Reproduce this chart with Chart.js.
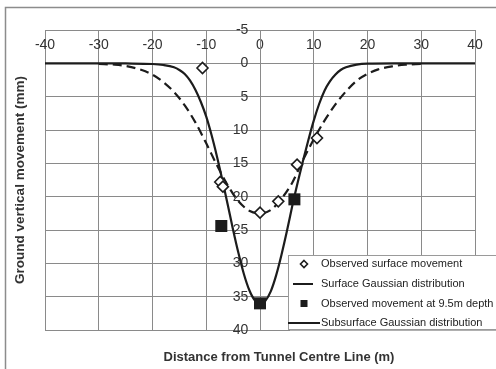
<!DOCTYPE html>
<html>
<head>
<meta charset="utf-8">
<script src="https://cdn.jsdelivr.net/npm/chart.js@4"></script>
<style>
  html, body { margin: 0; padding: 0; background: #fff; }
  canvas { display: block; }
</style>
</head>
<body>
<canvas id="chart" width="496" height="369"></canvas>
<script>
// Observed settlement at the ground surface (x in m, settlement in mm)
const surfaceObsX = [-10.7, -7.4, -6.9, 0, 3.4, 6.9, 10.6];
const surfaceObsY = [0.7, 17.8, 18.5, 22.4, 20.7, 15.2, 11.2];

// Gaussian trough fitted to the surface data
const surfaceFitX = [-30, -27, -25, -22, -20, -18, -16, -14, -12, -10, -8, -6, -4, -2, 0,
                     2, 4, 6, 8, 10, 12, 14, 16, 18, 20, 22, 25, 27, 30];
const surfaceFitY = [0.1, 0.2, 0.4, 1.0, 1.7, 2.8, 4.3, 6.3, 8.9, 12.0, 15.3, 18.3, 20.7, 22.1, 22.5,
                     22.0, 20.3, 17.9, 14.5, 11.4, 8.6, 6.2, 4.2, 2.6, 1.6, 0.9, 0.4, 0.2, 0.1];

// Observed movement at 9.5 m depth
const depthObsX = [-7.2, 0, 6.4];
const depthObsY = [24.4, 36.0, 20.4];

// Gaussian trough fitted to the subsurface data
const subFitX = [-40, -30, -25, -20, -18, -16, -15, -14, -13, -12, -11, -10, -9, -8, -7, -6, -5, -4, -3, -2, -1, 0,
                 1, 2, 3, 4, 5, 6, 7, 8, 9, 10, 11, 12, 13, 14, 15, 16, 18, 20, 25, 30, 40];
const subFitY = [0, 0, 0.02, 0.1, 0.25, 0.6, 1.0, 1.6, 2.6, 4.0, 5.8, 8.0, 10.8, 14.0, 17.5, 21.2, 25.0, 28.5, 31.6, 34.0, 35.5, 36.0,
                 35.6, 34.2, 31.8, 28.7, 25.2, 21.4, 17.9, 14.6, 11.5, 8.6, 6.1, 4.1, 2.7, 1.7, 1.0, 0.6, 0.2, 0.05, 0, 0, 0];

const seriesNames = [
  'Observed surface movement',
  'Surface Gaussian distribution',
  'Observed movement at 9.5m depth',
  'Subsurface Gaussian distribution'
];

const xTickStep = 10;
const yTickStep = 5;

const pts = (xs, ys) => xs.map((x, i) => ({ x: x, y: ys[i] }));

const INK = '#1c1c1c';
const GRID = '#8a8a8a';
const TEXT = '#333333';

// Frame, axis titles and legend box drawn on the canvas
const decorations = {
  id: 'decorations',
  beforeDraw(chart) {
    const ctx = chart.ctx;
    ctx.save();
    ctx.fillStyle = '#ffffff';
    ctx.fillRect(0, 0, chart.width, chart.height);
    ctx.strokeStyle = '#8c8c8c';
    ctx.lineWidth = 1.5;
    ctx.strokeRect(5.5, 7.5, chart.width + 20, chart.height + 20);
    ctx.restore();
  },
  afterDraw(chart) {
    const ctx = chart.ctx;
    const area = chart.chartArea;
    ctx.save();
    ctx.fillStyle = TEXT;
    ctx.font = 'bold 13px "Liberation Sans", Arial, sans-serif';
    ctx.textAlign = 'center';
    ctx.textBaseline = 'middle';
    ctx.fillText('Distance from Tunnel Centre Line (m)', 279, 357);
    ctx.translate(20, (area.top + area.bottom) / 2);
    ctx.rotate(-Math.PI / 2);
    ctx.font = 'bold 13.5px "Liberation Sans", Arial, sans-serif';
    ctx.fillText('Ground vertical movement (mm)', 0, 0);
    ctx.restore();

    // legend
    const lx = 288, ly = 255, lw = 230, lh = 74;
    ctx.save();
    ctx.fillStyle = '#b0b0b0';
    ctx.fillRect(lx + 2, ly + 2, lw, lh);
    ctx.fillStyle = '#ffffff';
    ctx.fillRect(lx, ly, lw, lh);
    ctx.strokeStyle = '#9a9a9a';
    ctx.lineWidth = 1;
    ctx.strokeRect(lx + 0.5, ly + 0.5, lw, lh);

    const rows = [264, 284, 303.5, 323];
    chart.data.datasets.forEach((ds, i) => {
      const cy = rows[i];
      const cx = 304;
      ctx.strokeStyle = INK;
      ctx.fillStyle = INK;
      if (ds.showLine) {
        ctx.lineWidth = 2;
        ctx.setLineDash([]);
        ctx.beginPath();
        const x0 = i === 3 ? lx : 293;
        const x1 = i === 3 ? 320 : 313;
        ctx.moveTo(x0, cy);
        ctx.lineTo(x1, cy);
        ctx.stroke();
      } else if (ds.pointStyle === 'rectRot') {
        ctx.lineWidth = 1.6;
        ctx.fillStyle = '#ffffff';
        ctx.beginPath();
        ctx.moveTo(cx, cy - 3.5);
        ctx.lineTo(cx + 3.5, cy);
        ctx.lineTo(cx, cy + 3.5);
        ctx.lineTo(cx - 3.5, cy);
        ctx.closePath();
        ctx.fill();
        ctx.stroke();
      } else {
        ctx.fillRect(cx - 3.5, cy - 3.5, 7, 7);
      }
      ctx.fillStyle = '#222222';
      ctx.font = '11px "Liberation Sans", Arial, sans-serif';
      ctx.textAlign = 'left';
      ctx.textBaseline = 'middle';
      ctx.fillText(ds.label, 321, cy);
    });
    ctx.restore();
  }
};

new Chart(document.getElementById('chart'), {
  type: 'scatter',
  data: {
    datasets: [
      {
        label: seriesNames[0],
        data: pts(surfaceObsX, surfaceObsY),
        showLine: false,
        pointStyle: 'rectRot',
        pointRadius: 5.5,
        pointBorderWidth: 1.6,
        pointBackgroundColor: '#ffffff',
        pointBorderColor: INK
      },
      {
        label: seriesNames[1],
        data: pts(surfaceFitX, surfaceFitY),
        showLine: true,
        borderColor: INK,
        borderWidth: 2.2,
        borderDash: [9, 5],
        pointRadius: 0,
        cubicInterpolationMode: 'monotone'
      },
      {
        label: seriesNames[2],
        data: pts(depthObsX, depthObsY),
        showLine: false,
        pointStyle: 'rect',
        pointRadius: 8.5,
        pointBorderWidth: 0,
        pointBackgroundColor: INK,
        pointBorderColor: INK
      },
      {
        label: seriesNames[3],
        data: pts(subFitX, subFitY),
        showLine: true,
        borderColor: INK,
        borderWidth: 2.2,
        pointRadius: 0,
        cubicInterpolationMode: 'monotone'
      }
    ]
  },
  options: {
    responsive: false,
    animation: false,
    devicePixelRatio: 1,
    layout: { padding: { left: 45, top: 30, right: 21, bottom: 39 } },
    plugins: {
      legend: { display: false },
      tooltip: { enabled: false },
      title: { display: false }
    },
    scales: {
      x: {
        type: 'linear',
        min: -40,
        max: 40,
        position: { y: -5 },
        grid: { color: GRID, lineWidth: 1, drawTicks: false },
        border: { display: true, color: GRID, width: 1 },
        ticks: {
          stepSize: xTickStep,
          padding: 7,
          color: TEXT,
          font: { family: '"Liberation Sans", Arial, sans-serif', size: 14 },
          maxRotation: 0
        }
      },
      y: {
        type: 'linear',
        min: -5,
        max: 40,
        reverse: true,
        position: { x: 0 },
        grid: { color: GRID, lineWidth: 1, drawTicks: true, tickLength: 9, tickColor: GRID },
        border: { display: true, color: GRID, width: 1 },
        ticks: {
          stepSize: yTickStep,
          color: TEXT,
          font: { family: '"Liberation Sans", Arial, sans-serif', size: 14 },
          callback: (v) => v + '   '
        }
      }
    }
  },
  plugins: [decorations]
});
</script>
</body>
</html>
